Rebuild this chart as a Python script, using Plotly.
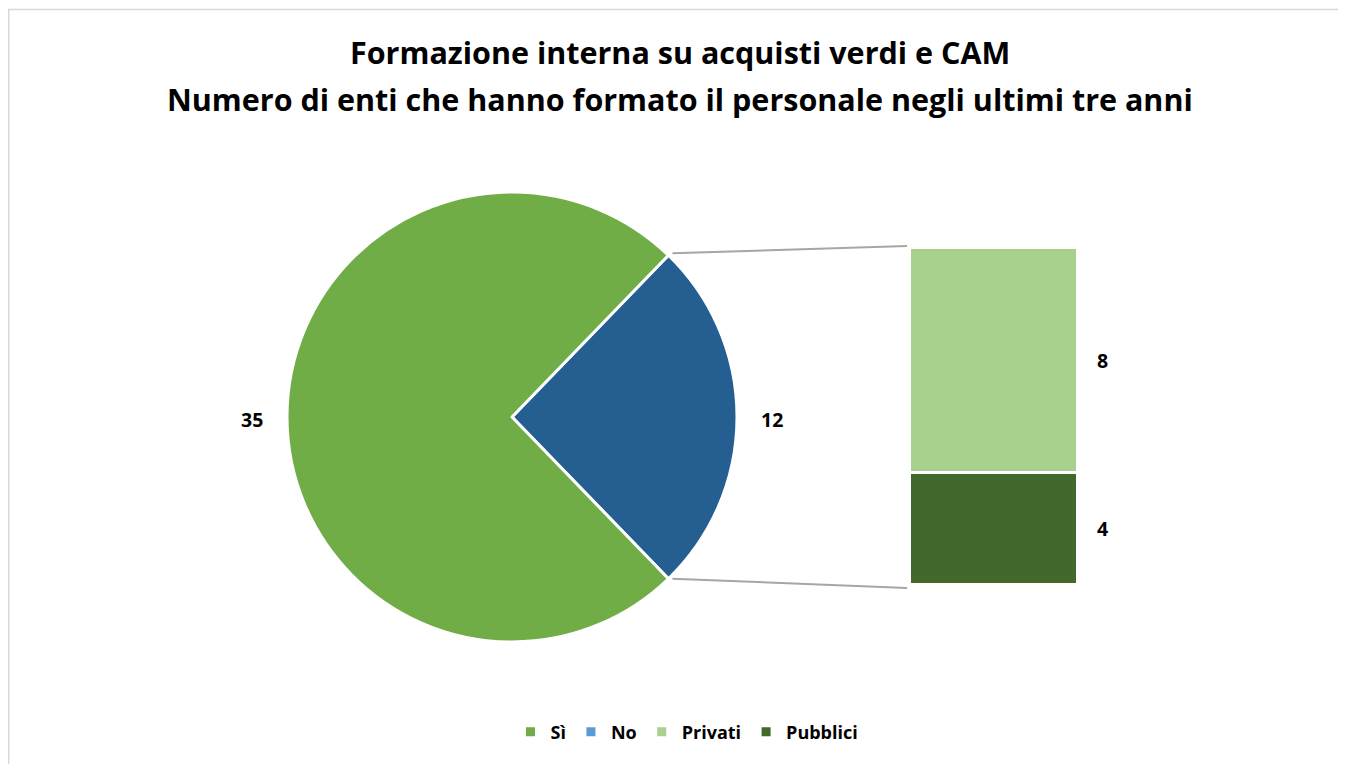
import math
import plotly.graph_objects as go

W, H = 1346, 764
OFF = 8  # page body margin in the browser

title_lines = ["Formazione interna su acquisti verdi e CAM",
               "Numero di enti che hanno formato il personale negli ultimi tre anni"]

pie_labels = ["No", "Sì"]
pie_values = [12, 35]
pie_colors = ["#255E91", "#70AD47"]

bar_labels = ["Pubblici", "Privati"]
bar_values = [4, 8]
bar_colors = ["#43682B", "#A9D18E"]

legend_labels = ["Sì", "No", "Privati", "Pubblici"]
legend_colors = ["#70AD47", "#5B9BD5", "#A9D18E", "#43682B"]

FONT = "Open Sans"

def px(x):
    return (x - OFF) / W

def py(y):
    return 1 - (y - OFF) / H

# pie geometry (pixels)
cx, cy, r = 512, 417, 225
total = sum(pie_values)
split_angle = pie_values[0] / total * 360.0  # angle of the "No" slice
rotation = 90 - split_angle / 2  # centre "No" slice at 3 o'clock

# bar geometry (pixels)
bx0, bx1, by_top, by_bot = 910, 1078, 248, 585

fig = go.Figure()

fig.add_trace(go.Pie(
    labels=pie_labels, values=pie_values, sort=False, direction="clockwise",
    rotation=rotation, marker=dict(colors=pie_colors, line=dict(color="white", width=3)),
    textinfo="none", hoverinfo="label+value", showlegend=False,
    domain=dict(x=[px(cx - r), px(cx + r)], y=[py(cy + r), py(cy - r)]),
))

for lab, val, col in zip(bar_labels, bar_values, bar_colors):
    fig.add_trace(go.Bar(
        x=[0], y=[val], name=lab, marker=dict(color=col, line=dict(color="white", width=3)),
        width=1, showlegend=False, xaxis="x", yaxis="y",
    ))

for lab, col in zip(legend_labels, legend_colors):
    fig.add_trace(go.Scatter(
        x=[None], y=[None], mode="markers", name="<b>%s</b>" % lab,
        marker=dict(symbol="square", size=9, color=col), showlegend=True,
    ))

annotations = []
# title
for i, line in enumerate(title_lines):
    annotations.append(dict(text="<b>%s</b>" % line, x=px(680), xref="paper", y=py(52 + 47 * i),
                            yref="paper", showarrow=False, xanchor="center", yanchor="middle",
                            font=dict(family=FONT, size=30.5, color="black")))

# pie value labels
start = rotation  # degrees clockwise from 12 o'clock
acc = 0
for val in pie_values:
    mid = start + (acc + val / 2) / total * 360.0
    acc += val
    ang = math.radians(mid)
    lr = r + 35
    lx = cx + lr * math.sin(ang)
    ly = cy - lr * math.cos(ang)
    annotations.append(dict(text="<b>%d</b>" % val, x=px(lx), y=py(ly + 2), xref="paper", yref="paper",
                            showarrow=False, xanchor="center", yanchor="middle",
                            font=dict(family=FONT, size=19.5, color="black")))

# bar value labels
cum = 0
for val in bar_values:
    annotations.append(dict(text="<b>%d</b>" % val, x=0.5, y=cum + val / 2, xref="x", yref="y",
                            xshift=24, showarrow=False, xanchor="center", yanchor="middle",
                            font=dict(family=FONT, size=19.5, color="black")))
    cum += val

# connectors
shapes = []
a1 = math.radians(rotation)
a2 = math.radians(rotation + split_angle)
p1 = (cx + r * math.sin(a1), cy - r * math.cos(a1))
p2 = (cx + r * math.sin(a2), cy - r * math.cos(a2))
shapes.append(dict(type="line", xref="paper", yref="paper", x0=px(p1[0] + 4), y0=py(p1[1] - 2),
                   x1=px(bx0 - 3), y1=py(by_top - 2), line=dict(color="#A6A6A6", width=2)))
shapes.append(dict(type="line", xref="paper", yref="paper", x0=px(p2[0] + 4), y0=py(p2[1]),
                   x1=px(bx0 - 3), y1=py(by_bot + 3), line=dict(color="#A6A6A6", width=2)))
# chart border
shapes.append(dict(type="rect", xref="paper", yref="paper", x0=px(OFF + 0.75), y0=py(9.5), x1=px(W + 20),
                   y1=py(H + 20), line=dict(color="#D9D9D9", width=1.5)))

fig.update_layout(
    width=W, height=H, margin=dict(l=0, r=0, t=0, b=0),
    paper_bgcolor="white", plot_bgcolor="rgba(0,0,0,0)",
    barmode="stack", bargap=0,
    xaxis=dict(domain=[px(bx0), px(bx1)], range=[-0.5, 0.5], visible=False, fixedrange=True),
    yaxis=dict(domain=[py(by_bot), py(by_top)], range=[0, sum(bar_values)], visible=False, fixedrange=True),
    legend=dict(orientation="h", x=px(687), xanchor="center", y=py(732), yanchor="middle",
                font=dict(family=FONT, size=18, color="black"), itemwidth=30, traceorder="normal",
                bgcolor="rgba(0,0,0,0)"),
    annotations=annotations, shapes=shapes,
    font=dict(family=FONT),
)

fig.write_html("out.html")
